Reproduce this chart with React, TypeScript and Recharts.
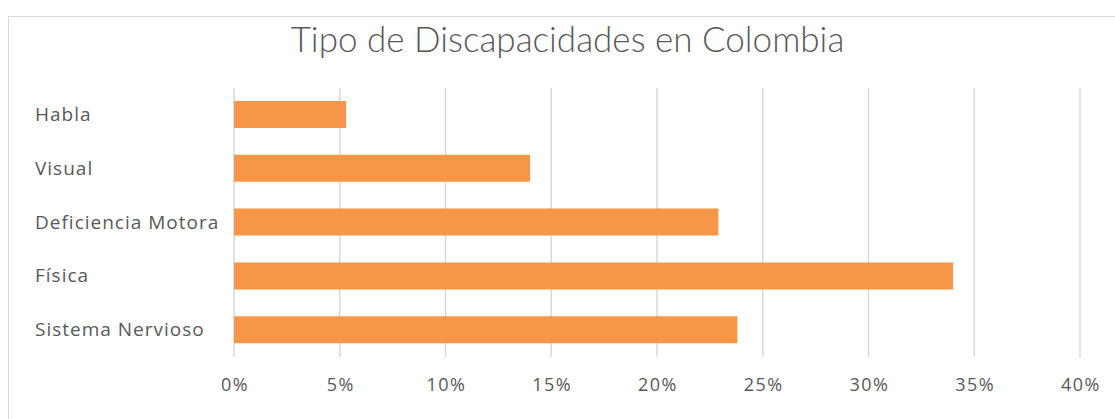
import React from 'react';
import { BarChart, Bar, XAxis, YAxis, CartesianGrid } from 'recharts';

const categories = ['Habla', 'Visual', 'Deficiencia Motora', 'Física', 'Sistema Nervioso'];
const shares = [0.053, 0.14, 0.229, 0.34, 0.238];
const xTicks = [0, 0.05, 0.1, 0.15, 0.2, 0.25, 0.3, 0.35, 0.4];

const data = categories.map((name, i) => ({ name, value: shares[i] }));

const FONT = '"Open Sans", sans-serif';
const TEXT = '#595959';

const CategoryTick = (props: any) => {
  const { y, payload } = props;
  return (
    <text x={35} y={y} dy={6} textAnchor="start" fill={TEXT} fontSize={19} letterSpacing={1} fontFamily={FONT}>
      {payload.value}
    </text>
  );
};

const PercentTick = (props: any) => {
  const { x, y, payload } = props;
  return (
    <text x={x + 1} y={y} dy={14} textAnchor="middle" fill={TEXT} fontSize={18} letterSpacing={1.5} fontFamily={FONT}>
      {`${Math.round(payload.value * 100)}%`}
    </text>
  );
};

export default function App() {
  return (
    <div style={{ position: 'relative', width: 1115, height: 419, background: '#fff', overflow: 'hidden' }}>
      <style>{'body{margin:0}'}</style>
      <div
        style={{
          position: 'absolute',
          left: 8,
          top: 16,
          width: 1200,
          height: 500,
          border: '1px solid #d9d9d9',
          boxSizing: 'border-box',
        }}
      />
      <div
        style={{
          position: 'absolute',
          left: 0,
          top: 17,
          width: 1135,
          textAlign: 'center',
          fontFamily: 'Lato, sans-serif',
          fontSize: 35,
          color: TEXT,
          fontWeight: 300,
        }}
      >
        Tipo de Discapacidades en Colombia
      </div>
      <div style={{ position: 'absolute', left: 0, top: 0 }}>
        <BarChart
          width={1115}
          height={419}
          data={data}
          layout="vertical"
          margin={{ top: 88, right: 35, bottom: 32, left: 0 }}
        >
          <CartesianGrid horizontal={false} stroke="#d9d9d9" strokeWidth={1.5} />
          <XAxis
            type="number"
            domain={[0, 0.4]}
            ticks={xTicks}
            axisLine={false}
            tickLine={false}
            tick={<PercentTick />}
            tickMargin={14}
            height={30}
            interval={0}
          />
          <YAxis
            type="category"
            dataKey="name"
            width={234}
            axisLine={false}
            tickLine={false}
            tick={<CategoryTick />}
            interval={0}
          />
          <Bar dataKey="value" fill="#F79646" barSize={27} isAnimationActive={false} />
        </BarChart>
      </div>
    </div>
  );
}
